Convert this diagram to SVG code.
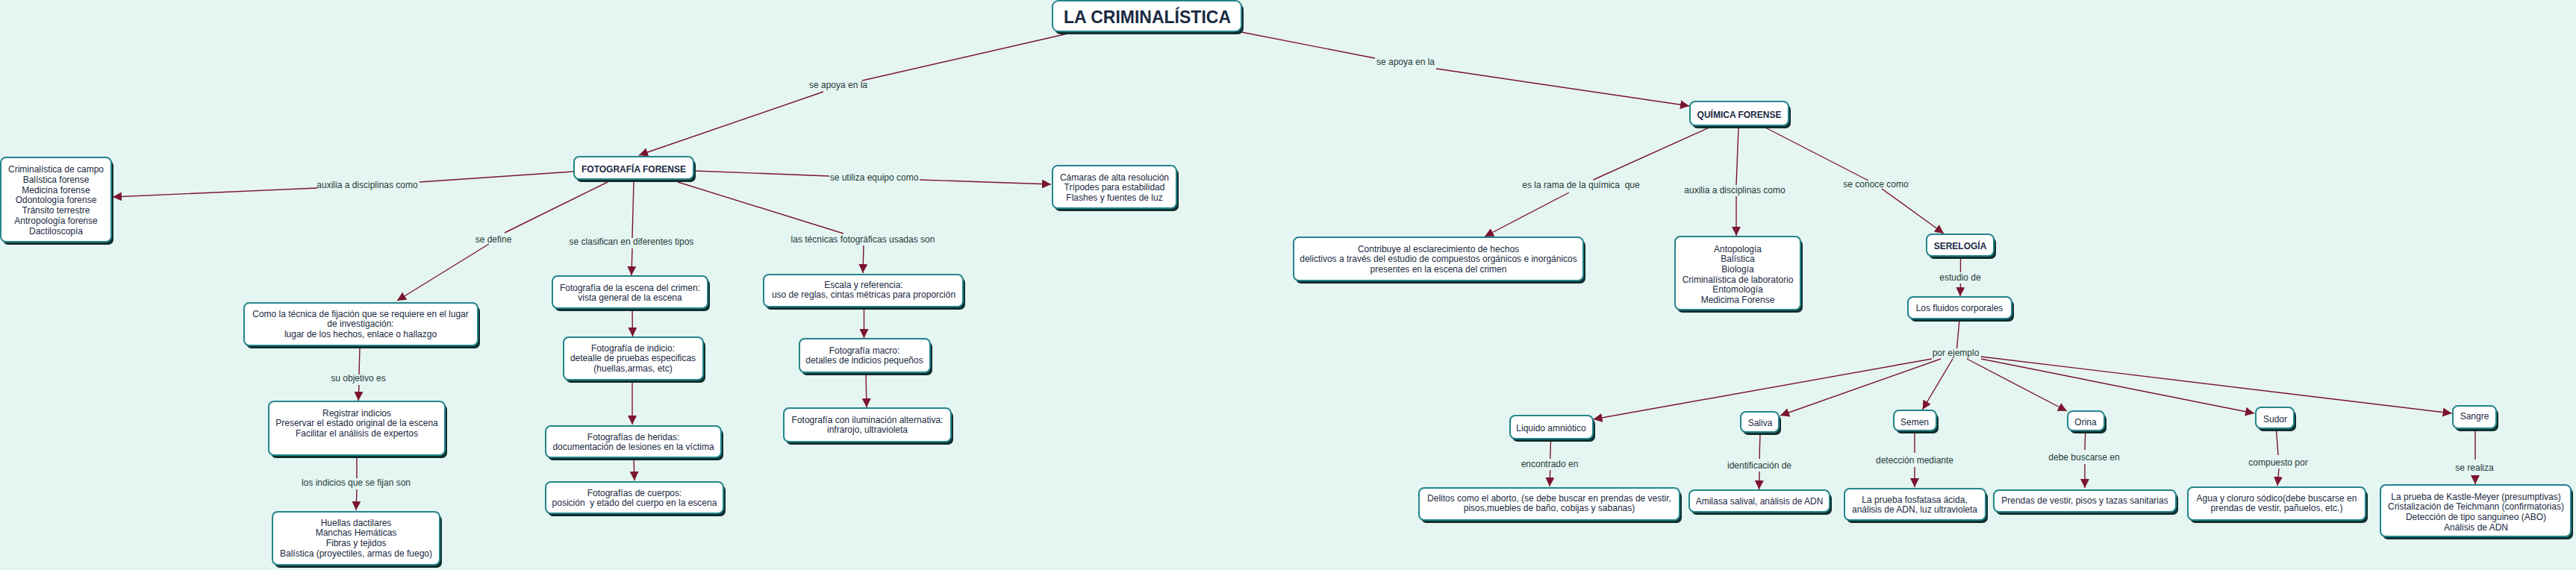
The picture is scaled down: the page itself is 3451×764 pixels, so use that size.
<svg xmlns="http://www.w3.org/2000/svg" width="3451" height="764" viewBox="0 0 3451 764">
<style>
.bg{fill:#e5f5f1}
.sh{fill:#0f2e2e}
.bx{fill:#ffffff;stroke:#23858a;stroke-width:2}
.t{font-family:"Liberation Sans",Arial,sans-serif;font-size:12px;fill:#1a2a42;text-anchor:middle}
.b{font-weight:bold}
.lb{font-family:"Liberation Sans",Arial,sans-serif;font-size:12px;fill:#1f3b3b;text-anchor:middle}
.c{fill:none;stroke:#7b1530;stroke-width:1.4}
.a{marker-end:url(#ah)}
</style>
<defs>
<marker id="ah" markerUnits="userSpaceOnUse" markerWidth="12" markerHeight="12" viewBox="0 0 12 12" refX="12" refY="6" orient="auto">
<path d="M0,0 L12,6 L0,12 z" fill="#7b1530"/>
</marker>
</defs>
<rect class="bg" x="0" y="0" width="3451" height="764"/>

<g id="connectors">
<path class="c" d="M1435,44 L1155,108"/><path class="c a" d="M1103,123 L856,208"/>
<path class="c" d="M1663,43 L1842,78"/><path class="c a" d="M1924,92 L2263,142"/>
<path class="c" d="M768,230 L562,244"/><path class="c a" d="M425,252 L151,264"/>
<path class="c" d="M931,229 L1111,236"/><path class="c a" d="M1232,241 L1408,247"/>
<path class="c" d="M814,244 L676,312"/><path class="c a" d="M655,327 L532,403"/>
<path class="c" d="M849,244 L847,319"/><path class="c a" d="M847,333 L846,369"/>
<path class="c" d="M908,244 L1130,313"/><path class="c a" d="M1157,329 L1156,366"/>
<path class="c" d="M482,466 L481,502"/><path class="c a" d="M481,516 L480,537"/>
<path class="c" d="M478,612 L478,641"/><path class="c a" d="M478,656 L477,684"/>
<path class="c a" d="M847,415 L847.5,451"/>
<path class="c a" d="M847,511 L847,569"/>
<path class="c a" d="M849,615 L850,644"/>
<path class="c a" d="M1157.5,413 L1157.5,453"/>
<path class="c a" d="M1160,501 L1161,546"/>
<path class="c" d="M2289.5,171 L2134.5,241"/><path class="c a" d="M2102,258 L1989,317"/>
<path class="c" d="M2329,171 L2326,248"/><path class="c a" d="M2326,263 L2326,316"/>
<path class="c" d="M2365,171 L2503,242"/><path class="c a" d="M2521,253 L2604,313"/>
<path class="c" d="M2626.5,345 L2626.5,365"/><path class="c a" d="M2626.5,380 L2626,397"/>
<path class="c" d="M2625,429 L2621.5,467"/>
<path class="c a" d="M2588,481 L2134.5,562"/>
<path class="c a" d="M2600,481 L2385,557"/>
<path class="c a" d="M2616,481 L2575.5,549"/>
<path class="c a" d="M2635,481 L2769,551"/>
<path class="c a" d="M2654,481 L3020,554"/>
<path class="c a" d="M2654,478 L3284.6,554"/>
<path class="c" d="M2077.5,590 L2076.7,615"/><path class="c a" d="M2076.7,630 L2076,652"/>
<path class="c" d="M2358,581 L2357,615"/><path class="c a" d="M2357,632 L2356.6,656"/>
<path class="c" d="M2565,579 L2565,607"/><path class="c a" d="M2565,626 L2565,653"/>
<path class="c" d="M2793.7,579 L2793,603"/><path class="c a" d="M2793,622 L2793,654"/>
<path class="c" d="M3049.5,576 L3052,610"/><path class="c a" d="M3053,628 L3051,651"/>
<path class="c" d="M3316,576 L3316,616"/><path class="c a" d="M3316,637 L3316,649"/>
</g>

<g id="labels">
<text class="lb" x="1123" y="118">se apoya en la</text>
<text class="lb" x="1883" y="87">se apoya en la</text>
<text class="lb" x="492" y="252">auxilia a disciplinas como</text>
<text class="lb" x="1171" y="242">se utiliza equipo como</text>
<text class="lb" x="661" y="325">se define</text>
<text class="lb" x="846" y="328">se clasifican en diferentes tipos</text>
<text class="lb" x="1156" y="325">las técnicas fotográficas usadas son</text>
<text class="lb" x="480" y="511">su objetivo es</text>
<text class="lb" x="477" y="651">los indicios que se fijan son</text>
<text class="lb" x="2118" y="252" xml:space="preserve">es la rama de la química  que</text>
<text class="lb" x="2324" y="259">auxilia a disciplinas como</text>
<text class="lb" x="2513" y="251">se conoce como</text>
<text class="lb" x="2626" y="376">estudio de</text>
<text class="lb" x="2620" y="477">por ejemplo</text>
<text class="lb" x="2076" y="626">encontrado en</text>
<text class="lb" x="2357" y="628">identificación de</text>
<text class="lb" x="2565" y="621">detección mediante</text>
<text class="lb" x="2792" y="617">debe buscarse en</text>
<text class="lb" x="3052" y="624">compuesto por</text>
<text class="lb" x="3315" y="631">se realiza</text>
</g>

<g id="n-title">
<rect class="sh" x="1413" y="5" width="253" height="41" rx="8"/>
<rect class="bx" x="1410" y="1" width="253" height="41" rx="8"/>
<text class="t b" x="1537" y="31" style="font-size:23px">LA CRIMINALÍSTICA</text>
</g>
<g id="n-fotografia">
<rect class="sh" x="772" y="214" width="160" height="30" rx="7"/>
<rect class="bx" x="769" y="210" width="160" height="30" rx="7"/>
<text class="t b" x="849" y="231">FOTOGRAFÍA FORENSE</text>
</g>
<g id="n-disciplinas1">
<rect class="sh" x="4" y="215" width="148" height="113" rx="7"/>
<rect class="bx" x="1" y="211" width="148" height="113" rx="7"/>
<text class="t" y="231"><tspan x="75">Criminalística de campo</tspan><tspan x="75" dy="13.8">Balística forense</tspan><tspan x="75" dy="13.8">Medicina forense</tspan><tspan x="75" dy="13.8">Odontología forense</tspan><tspan x="75" dy="13.8">Tránsito terrestre</tspan><tspan x="75" dy="13.8">Antropología forense</tspan><tspan x="75" dy="13.8">Dactiloscopía</tspan></text>
</g>
<g id="n-camaras">
<rect class="sh" x="1413" y="226" width="166" height="57" rx="7"/>
<rect class="bx" x="1410" y="222" width="166" height="57" rx="7"/>
<text class="t" y="241.5"><tspan x="1493">Cámaras de alta resolución</tspan><tspan x="1493" dy="13.7">Trípodes para estabilidad</tspan><tspan x="1493" dy="13.7">Flashes y fuentes de luz</tspan></text>
</g>
<g id="n-como">
<rect class="sh" x="330" y="410" width="313" height="57" rx="7"/>
<rect class="bx" x="327" y="406" width="313" height="57" rx="7"/>
<text class="t" y="424.5"><tspan x="483">Como la técnica de fijación que se requiere en el lugar</tspan><tspan x="483" dy="13.7">de investigación:</tspan><tspan x="483" dy="13.7">lugar de los hechos, enlace o hallazgo</tspan></text>
</g>
<g id="n-registrar">
<rect class="sh" x="363" y="542" width="236" height="72" rx="7"/>
<rect class="bx" x="360" y="538" width="236" height="72" rx="7"/>
<text class="t" y="557.5"><tspan x="478">Registrar indicios</tspan><tspan x="478" dy="13.7">Preservar el estado original de la escena</tspan><tspan x="478" dy="13.7">Facilitar el análisis de expertos</tspan></text>
</g>
<g id="n-huellas">
<rect class="sh" x="368" y="690" width="224" height="71" rx="7"/>
<rect class="bx" x="365" y="686" width="224" height="71" rx="7"/>
<text class="t" y="704.5"><tspan x="477">Huellas dactilares</tspan><tspan x="477" dy="13.7">Manchas Hemáticas</tspan><tspan x="477" dy="13.7">Fibras y tejidos</tspan><tspan x="477" dy="13.7">Balística (proyectiles, armas de fuego)</tspan></text>
</g>
<g id="n-escena">
<rect class="sh" x="743" y="374" width="208" height="43" rx="7"/>
<rect class="bx" x="740" y="370" width="208" height="43" rx="7"/>
<text class="t" y="389.5"><tspan x="844">Fotografía de la escena del crimen:</tspan><tspan x="844" dy="13.7">vista general de la escena</tspan></text>
</g>
<g id="n-indicio">
<rect class="sh" x="758" y="456" width="187" height="57" rx="7"/>
<rect class="bx" x="755" y="452" width="187" height="57" rx="7"/>
<text class="t" y="470.5"><tspan x="848">Fotografía de indicio:</tspan><tspan x="848" dy="13.7">detealle de pruebas especificas</tspan><tspan x="848" dy="13.7">(huellas,armas, etc)</tspan></text>
</g>
<g id="n-heridas">
<rect class="sh" x="734" y="575" width="235" height="42" rx="7"/>
<rect class="bx" x="731" y="571" width="235" height="42" rx="7"/>
<text class="t" y="589.5"><tspan x="848.5">Fotografías de heridas:</tspan><tspan x="848.5" dy="13.7">documentación de lesiones en la víctima</tspan></text>
</g>
<g id="n-cuerpos">
<rect class="sh" x="734" y="650" width="238" height="42" rx="7"/>
<rect class="bx" x="731" y="646" width="238" height="42" rx="7"/>
<text class="t" y="664.5" xml:space="preserve"><tspan x="850">Fotografías de cuerpos:</tspan><tspan x="850" dy="13.7">posición  y etado del cuerpo en la escena</tspan></text>
</g>
<g id="n-escala">
<rect class="sh" x="1026" y="372" width="267" height="43" rx="7"/>
<rect class="bx" x="1023" y="368" width="267" height="43" rx="7"/>
<text class="t" y="385.5"><tspan x="1157">Escala y referencia:</tspan><tspan x="1157" dy="13.7">uso de reglas, cintas métricas para proporción</tspan></text>
</g>
<g id="n-macro">
<rect class="sh" x="1074" y="458" width="175" height="45" rx="7"/>
<rect class="bx" x="1071" y="454" width="175" height="45" rx="7"/>
<text class="t" y="473.5"><tspan x="1158">Fotografía macro:</tspan><tspan x="1158" dy="13.7">detalles de indicios pequeños</tspan></text>
</g>
<g id="n-iluminacion">
<rect class="sh" x="1053" y="551" width="224" height="45" rx="7"/>
<rect class="bx" x="1050" y="547" width="224" height="45" rx="7"/>
<text class="t" y="566.5"><tspan x="1162">Fotografía con iluminación alternativa:</tspan><tspan x="1162" dy="13.7">infrarojo, ultravioleta</tspan></text>
</g>
<g id="n-quimica">
<rect class="sh" x="2267" y="140" width="132" height="32" rx="7"/>
<rect class="bx" x="2264" y="136" width="132" height="32" rx="7"/>
<text class="t b" x="2330" y="157.5">QUÍMICA FORENSE</text>
</g>
<g id="n-contribuye">
<rect class="sh" x="1736" y="322" width="388" height="58" rx="7"/>
<rect class="bx" x="1733" y="318" width="388" height="58" rx="7"/>
<text class="t" y="337.5"><tspan x="1927">Contribuye al esclarecimiento de hechos</tspan><tspan x="1927" dy="13.7">delictivos a través del estudio de compuestos orgánicos e inorgánicos</tspan><tspan x="1927" dy="13.7">presentes en la escena del crimen</tspan></text>
</g>
<g id="n-disciplinas2">
<rect class="sh" x="2247" y="321" width="168" height="98" rx="7"/>
<rect class="bx" x="2244" y="317" width="168" height="98" rx="7"/>
<text class="t" y="337.5"><tspan x="2328">Antopología</tspan><tspan x="2328" dy="13.7">Balística</tspan><tspan x="2328" dy="13.7">Biología</tspan><tspan x="2328" dy="13.7">Criminalística de laboratorio</tspan><tspan x="2328" dy="13.7">Entomología</tspan><tspan x="2328" dy="13.7">Medicima Forense</tspan></text>
</g>
<g id="n-serelogia">
<rect class="sh" x="2584" y="318" width="90" height="29" rx="7"/>
<rect class="bx" x="2581" y="314" width="90" height="29" rx="7"/>
<text class="t b" x="2626" y="334">SERELOGÍA</text>
</g>
<g id="n-fluidos">
<rect class="sh" x="2559" y="402" width="139" height="29" rx="7"/>
<rect class="bx" x="2556" y="398" width="139" height="29" rx="7"/>
<text class="t" x="2625" y="416.5">Los fluidos corporales</text>
</g>
<g id="n-liquido">
<rect class="sh" x="2026" y="561" width="111" height="31" rx="7"/>
<rect class="bx" x="2023" y="557" width="111" height="31" rx="7"/>
<text class="t" x="2078" y="577.5">Liquido amniótico</text>
</g>
<g id="n-delitos">
<rect class="sh" x="1904" y="658" width="349" height="43" rx="7"/>
<rect class="bx" x="1901" y="654" width="349" height="43" rx="7"/>
<text class="t" y="671.5"><tspan x="2075.5">Delitos como el aborto, (se debe buscar en prendas de vestir,</tspan><tspan x="2075.5" dy="13.7">pisos,muebles de baño, cobijas y sabanas)</tspan></text>
</g>
<g id="n-saliva">
<rect class="sh" x="2335" y="556" width="51" height="27" rx="7"/>
<rect class="bx" x="2332" y="552" width="51" height="27" rx="7"/>
<text class="t" x="2358" y="570.5">Saliva</text>
</g>
<g id="n-amilasa">
<rect class="sh" x="2266" y="661" width="188" height="29" rx="7"/>
<rect class="bx" x="2263" y="657" width="188" height="29" rx="7"/>
<text class="t" x="2357" y="676">Amilasa salival, análisis de ADN</text>
</g>
<g id="n-semen">
<rect class="sh" x="2540" y="554" width="57" height="27" rx="7"/>
<rect class="bx" x="2537" y="550" width="57" height="27" rx="7"/>
<text class="t" x="2565" y="569.5">Semen</text>
</g>
<g id="n-fosfatasa">
<rect class="sh" x="2474" y="659" width="189" height="42" rx="7"/>
<rect class="bx" x="2471" y="655" width="189" height="42" rx="7"/>
<text class="t" y="673.5"><tspan x="2565">La prueba fosfatasa ácida,</tspan><tspan x="2565" dy="13.7">análisis de ADN, luz ultravioleta</tspan></text>
</g>
<g id="n-orina">
<rect class="sh" x="2773" y="555" width="49" height="26" rx="7"/>
<rect class="bx" x="2770" y="551" width="49" height="26" rx="7"/>
<text class="t" x="2794" y="569.5">Orina</text>
</g>
<g id="n-prendas">
<rect class="sh" x="2674" y="661" width="244" height="29" rx="7"/>
<rect class="bx" x="2671" y="657" width="244" height="29" rx="7"/>
<text class="t" x="2793" y="674.5">Prendas de vestir, pisos y tazas sanitarias</text>
</g>
<g id="n-sudor">
<rect class="sh" x="3025" y="550" width="51" height="28" rx="7"/>
<rect class="bx" x="3022" y="546" width="51" height="28" rx="7"/>
<text class="t" x="3048" y="565.5">Sudor</text>
</g>
<g id="n-agua">
<rect class="sh" x="2934" y="657" width="238" height="44" rx="7"/>
<rect class="bx" x="2931" y="653" width="238" height="44" rx="7"/>
<text class="t" y="671.5"><tspan x="3050">Agua y cloruro sódico(debe buscarse en</tspan><tspan x="3050" dy="13.7">prendas de vestir, pañuelos, etc.)</tspan></text>
</g>
<g id="n-sangre">
<rect class="sh" x="3289" y="548" width="58" height="30" rx="7"/>
<rect class="bx" x="3286" y="544" width="58" height="30" rx="7"/>
<text class="t" x="3315" y="561.5">Sangre</text>
</g>
<g id="n-kastle">
<rect class="sh" x="3192" y="654" width="255" height="69" rx="7"/>
<rect class="bx" x="3189" y="650" width="255" height="69" rx="7"/>
<text class="t" y="669.5"><tspan x="3317">La prueba de Kastle-Meyer (presumptivas)</tspan><tspan x="3317" dy="13.7">Cristalización de Teichmann (confirmatorias)</tspan><tspan x="3317" dy="13.7">Detección de tipo sanguineo (ABO)</tspan><tspan x="3317" dy="13.7">Análisis de ADN</tspan></text>
</g>
</svg>
